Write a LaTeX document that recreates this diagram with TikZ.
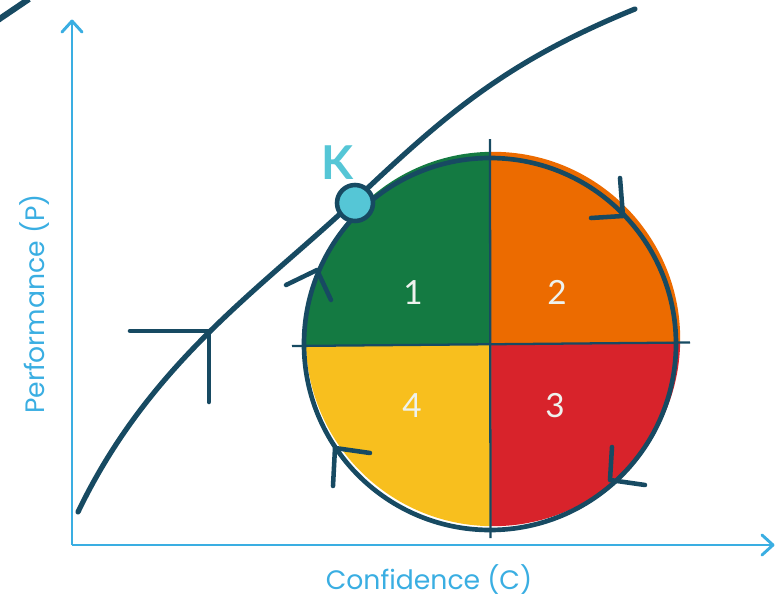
\documentclass[tikz,border=0pt]{standalone}
\usepackage{fontspec}
\setmainfont{Lato}
\newfontfamily\labfont{Poppins}
\usetikzlibrary{calc}
\definecolor{navy}{HTML}{174A62}
\definecolor{axisblue}{HTML}{3AAEE2}
\definecolor{qgreen}{HTML}{147A42}
\definecolor{qorange}{HTML}{EC6B00}
\definecolor{qred}{HTML}{D8232B}
\definecolor{qyellow}{HTML}{F8BF1E}
\definecolor{kcyan}{HTML}{55C6D6}
\definecolor{numwhite}{HTML}{EEF2EE}
\tikzset{
  axisline/.style={draw=axisblue, line width=2.2pt},
  axishead/.style={draw=axisblue, line width=2.2pt, line cap=round, line join=round},
  curveline/.style={draw=navy, line width=3.9pt, line cap=round},
  chevron/.style={draw=navy, line width=3.4pt, line cap=round, line join=round},
  divider/.style={draw=navy, line width=1.7pt},
  axislabel/.style={text=axisblue, font=\labfont\fontsize{20}{24}\selectfont},
  numlabel/.style={text=numwhite, font=\fontsize{25}{28}\selectfont},
  klabel/.style={text=kcyan, font=\fontsize{35}{38}\selectfont\bfseries},
}
\begin{document}
\begin{tikzpicture}[x=0.75pt,y=-0.75pt]
\useasboundingbox (0,0) rectangle (776,600);
% axes
\coordinate (O) at (72,545);
\coordinate (Ytop) at (72,21);
\coordinate (Xend) at (773,545);
\draw[axisline] (O) -- (Ytop);
\draw[axisline] (O) -- (Xend);
\draw[axishead] ($(Ytop)+(-10,11)$) -- (Ytop) -- ($(Ytop)+(10,11)$);
\draw[axishead] ($(Xend)+(-11,-10)$) -- (Xend) -- ($(Xend)+(-11,10)$);
\node[axislabel, rotate=90] (ylab) at (35,304) {Performance (P)};
\node[axislabel] (xlab) at (429,580) {Confidence (C)};
% corner fragment
\coordinate (f1) at (-2,20);
\coordinate (f2) at (29,-1);
\draw[draw=navy, line width=4.5pt] (f1) -- (f2);
% quadrant fills
\begin{scope}
  \clip (493,339) circle[radius=140.4pt];
  \fill[qgreen]  (280,120) -- (491,120) -- (491,344) -- (280,346.2) -- cycle;
  \fill[qorange] (491,120) -- (710,120) -- (710,341.5) -- (491,344) -- cycle;
  \fill[qred]    (491,344) -- (710,341.5) -- (710,560) -- (491,560) -- cycle;
  \fill[qyellow] (280,346.2) -- (491,344) -- (491,560) -- (280,560) -- cycle;
\end{scope}
% dividers
\coordinate (vt) at (490,139);
\coordinate (vb) at (490.5,538);
\coordinate (hl) at (292,346);
\coordinate (hr) at (690,342.5);
\draw[divider] (vt) -- (vb);
\draw[divider] (hl) -- (hr);
% circle outline
\draw[draw=navy, line width=3.5pt] (490,344) circle[radius=139.5pt];
% main curve
\coordinate (cs) at (78,512);
\coordinate (cm) at (355,200);
\coordinate (ce) at (635,9);
\draw[curveline] (cs) .. controls (150,362) and (262,288) .. (cm) .. controls (445,115) and (505,62) .. (ce);
% chevrons
\coordinate (c1t) at (209,331);
\draw[chevron] (130,331) -- (c1t) -- (209,402);
\coordinate (c2t) at (317,270);
\draw[chevron] (286,285) -- (c2t) -- (331,300);
\coordinate (c3t) at (623,216);
\draw[chevron] (591,218) -- (c3t) -- (620,178);
\coordinate (c4t) at (335,448);
\draw[chevron] (370,453) -- (c4t) -- (333,486);
\coordinate (c5t) at (610,480);
\draw[chevron] (612,447) -- (c5t) -- (645,485);
% K point
\node[circle, fill=kcyan, draw=navy, line width=3.4pt, minimum size=27pt, inner sep=0pt] (K) at (355,203) {};
\node[klabel] (Klab) at (337,163) {K};
% numbers
\node[numlabel] (n1) at (413,293) {1};
\node[numlabel] (n2) at (557,292) {2};
\node[numlabel] (n3) at (555,406) {3};
\node[numlabel] (n4) at (412,406) {4};
\end{tikzpicture}
\end{document}
